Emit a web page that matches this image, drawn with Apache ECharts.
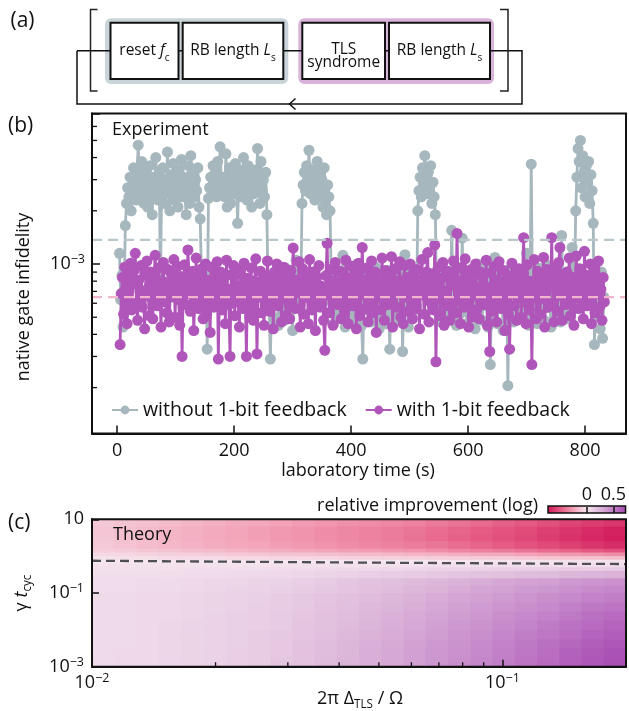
<!DOCTYPE html>
<html><head><meta charset="utf-8">
<script src="https://cdn.jsdelivr.net/npm/echarts@6/dist/echarts.min.js"></script>
<style>html,body{margin:0;padding:0;background:#fff;}#c{width:629px;height:711px;}</style>
</head><body><div id="c"></div>
<script>
const FONT = '"Open Sans","Noto Sans",sans-serif';
const INK = '#111';

// ---------- panel (b): experiment ----------
const T_GRAY0 = 4, T_PURPLE0 = 5, T_STEP = 2;      // sampling times (s)
// native gate infidelity, in units of 1e-4
const GRAY_1E4 = [
11.5, 6.3, 8.6, 4.4, 7.2,
16.5, 22, 27, 24, 31, 20, 26, 35, 29, 23,
33, 47, 28, 25, 38, 30, 22, 27, 34, 21,
29, 36, 24, 19, 31, 26, 40, 28, 23, 33,
7.5, 27, 35, 22, 30, 25, 43, 29, 20, 32,
26, 37, 23, 30, 28, 21, 34, 27, 39, 24,
31, 25, 19, 29, 36, 22, 41, 27, 33, 24,
30, 26, 35, 21, 18,
9.0, 6.5, 7.8, 5.2, 8.4, 3.3,
23.5, 27, 31, 25, 36, 29, 33, 24, 38, 28,
46, 30, 26, 31, 24, 42, 21, 27, 35, 22,
29, 33, 25, 37, 28, 17, 31, 24, 34, 27,
40, 26, 30, 23, 36, 28, 32, 21, 29, 25,
34, 27, 45, 31, 22, 38, 26, 30, 24, 33,
19,
7, 5.5, 2.9, 6.4, 8.2, 5, 7.5, 6, 9, 4.5,
6.8, 8, 5.6, 7.3, 4.8, 9.5, 6.2, 5.3, 7.7, 6.6,
8.5, 4.2, 7, 6, 10.5, 5.8, 7.4, 9, 6.3,
22, 28, 33, 26, 36, 30, 44, 25, 31, 27,
34, 23, 29, 38, 26, 32, 24, 30, 21, 35,
27, 19, 28, 24, 20,
8, 6, 4.6, 7.2, 9, 5.4, 6.8, 8.4, 5, 7,
11.2, 6.2, 4.4, 7.8, 6, 9.3, 5.2, 7.4, 6.6, 8,
4.9, 7, 10, 5.8, 6.4, 8.6, 4.5, 2.9, 7.1, 6.3,
9, 5.5, 7.6, 6.1, 4.7, 8.2, 6.9, 5.3, 9.6, 7.2,
5.9, 4.3, 7.8, 6.5, 8.9, 5.1, 6.7, 4.6, 7.4, 9.2,
3.3, 6, 8.1, 5.6, 7, 4.8, 9.4, 6.3, 5.4, 7.7,
8.5, 3.2, 6.6, 11.3, 5.7, 7.2, 4.4, 8.8, 6.1, 5.2,
7.5, 9.1, 6.4, 5.8,
20, 26, 31, 24, 35, 28, 41, 30, 25, 33,
27, 36, 22, 29, 24, 19,
7, 5.6, 8.3, 6.4, 4.7, 9.2, 6.9, 5.4, 7.8, 6.1,
8.8, 4.9, 6.6, 15.5, 7.3, 5.9, 8, 4.5, 6.8, 9.6,
5.2, 7.1, 14, 6.3, 8.5, 5.7, 4.6, 7.6, 9, 6,
5.1, 8.2, 6.7, 4.3, 7.4, 10, 5.5, 6.9, 8.7, 4.8,
7, 6.2, 9.3, 5.8, 4.4, 7.9, 2.7, 6.5, 8.4, 5.3,
10.9, 6.8, 4.6, 7.2, 5.6, 8.9, 6.1, 4.2, 7.7, 5.9,
8.1, 2.05, 6.4, 9.4, 5, 7.5, 4.7, 6.6, 8.6, 5.4,
7.2, 9.1, 4.9, 6.3, 8, 5.7, 7.4, 11.5, 6, 4.5,
8.3,
36.7,
6.5, 8.9, 5.2, 7.3, 4.6, 9.5, 6.1, 7.8, 5.5, 8.2,
4.8, 6.9, 9.9, 5.7, 7.1, 6.3, 4.4, 8.5, 6.7, 5.1,
7.6, 9.1, 5.9, 6.4, 4.7, 14.5, 7.2, 5.3, 8.7, 6,
4.9, 7.9, 6.6, 9.2, 12.4, 5.6, 7,
20, 31, 45, 38, 50, 27, 41, 33, 24, 36,
29, 38, 22, 32, 26, 17,
3.5, 6.2, 8.4, 5.1, 7.6, 4.3, 9, 3.8, 6.5];
const PURPLE_1E4 = [
3.5, 6.8, 8.4, 5.2, 9.6, 7.1, 4.6, 8.9, 6.2, 10.1,
5.5, 7.7, 9.2, 11.5, 6.0, 4.8, 8.1, 7.0, 9.8, 5.7,
6.6, 4.3, 8.7, 10.4, 7.3, 5.1, 9.0, 6.4, 4.9, 8.3,
11.2, 7.5, 5.8, 9.5, 6.9, 4.4, 8.0, 10.2, 6.1, 7.8,
5.3, 9.3, 4.7, 7.2, 8.8, 6.5, 10.6, 5.0, 7.9, 9.7,
6.3, 4.5, 8.5, 3.0, 7.4, 9.9, 5.9, 6.8, 12.0, 8.2,
5.4, 7.6, 9.1, 4.2, 6.7, 10.8, 7.1, 5.6, 8.6, 6.0,
9.4, 4.9, 7.3, 10.0, 5.2, 8.1, 6.6, 4.1, 9.6, 7.0,
5.7, 8.9, 6.2, 10.3, 2.9, 7.7, 9.0, 5.5, 6.9, 8.4,
4.6, 10.5, 7.2, 5.9, 3.0, 8.7, 6.4, 9.8, 5.1, 7.5,
8.8, 6.1, 4.4, 9.3, 7.0, 5.6, 10.1, 6.8, 3.0, 8.3,
7.4, 5.0, 9.5, 6.3, 4.8, 8.0, 10.7, 3.1, 6.5, 7.9,
9.1, 5.3, 7.1, 4.5, 8.6, 6.0, 10.4, 7.6, 5.4, 8.2,
6.7, 4.3, 9.0, 7.3, 10.0, 5.8, 6.2, 8.9, 4.7, 7.7,
9.6, 6.4, 5.1, 8.5, 7.0, 4.9, 9.2, 6.0, 12.3, 7.4,
5.6, 8.1, 6.9, 10.3, 4.4, 7.2, 9.4, 5.2, 6.6, 8.7,
7.8, 4.6, 10.6, 6.3, 5.5, 9.0, 7.1, 4.2, 8.4, 6.1,
9.8, 5.7, 7.5, 6.8, 4.8, 3.25, 8.6, 13.1, 7.0, 5.3,
9.3, 6.5, 4.5, 8.0, 10.2, 7.2, 5.9, 6.9, 9.1, 4.9,
7.6, 8.8, 5.4, 10.5, 6.2, 4.6, 8.3, 7.0, 9.7, 5.8,
6.4, 8.9, 4.3, 7.4, 10.1, 5.1, 6.7, 12.4, 8.1, 5.6,
7.3, 9.5, 4.7, 6.0, 8.5, 10.4, 5.3, 7.1, 9.0, 4.1,
6.6, 8.2, 7.7, 5.5, 10.8, 6.3, 4.8, 9.2, 7.0, 5.9,
8.7, 6.1, 11.0, 4.4, 7.5, 9.4, 5.7, 6.9, 8.0, 10.3,
5.0, 7.2, 4.6, 9.8, 6.5, 8.4, 5.4, 7.8, 10.0, 6.2,
4.9, 8.6, 7.1, 5.6, 9.3, 6.8, 4.3, 8.1, 10.6, 7.4,
5.2, 6.6, 9.0, 11.6, 4.7, 7.9, 6.0, 8.8, 5.5, 12.8,
2.8, 7.3, 9.6, 6.4, 5.1, 8.3, 10.2, 4.5, 7.0, 6.7,
9.1, 5.8, 4.8, 8.5, 7.6, 10.4, 6.1, 5.3, 14.9, 8.0,
6.9, 4.6, 9.5, 7.2, 5.7, 10.7, 6.3, 8.2, 4.4, 7.8,
9.3, 5.0, 6.6, 8.7, 10.0, 5.5, 7.4, 4.9, 9.0, 6.2,
8.4, 5.9, 7.1, 10.5, 4.5, 6.8, 3.2, 8.9, 7.5, 5.4,
9.7, 6.4, 4.7, 8.1, 10.3, 7.0, 5.6, 6.0, 9.2, 4.2,
7.7, 8.6, 5.2, 3.3, 6.9, 10.1, 7.3, 5.8, 8.8, 4.8,
6.5, 9.4, 7.9, 5.0, 8.3, 14.1, 6.1, 4.6, 9.9, 7.2,
5.5, 8.0, 2.7, 6.7, 10.6, 7.6, 4.9, 9.1, 6.3, 5.2,
8.5, 7.0, 10.9, 4.4, 6.8, 9.3, 5.7, 8.2, 7.4, 14.1,
6.0, 4.7, 9.6, 7.8, 5.4, 10.2, 12.4, 6.6, 4.8, 8.7,
7.1, 5.9, 9.0, 6.4, 10.8, 5.1, 7.7, 8.4, 4.5, 6.9,
11.1, 7.3, 5.6, 9.4, 6.2, 8.9, 4.9, 11.8, 7.0, 5.8,
8.6, 6.5, 10.0, 4.6, 7.5, 9.2, 5.3, 6.8, 8.1, 10.4,
5.7, 7.2, 4.8, 8.4, 6.1];
const MEAN_WITHOUT_1E4 = 13.7;
const MEAN_WITH_1E4 = 6.5;
const B_X_RANGE = [-43, 870];
const B_Y_RANGE = [1.1e-4, 7.1e-3];
const B_X_TICKS = [0, 200, 400, 600, 800];
const B_Y_MINOR = [2e-4,3e-4,4e-4,5e-4,6e-4,7e-4,8e-4,9e-4,2e-3,3e-3,4e-3,5e-3,6e-3];

// ---------- panel (c): theory ----------
const C_X_RANGE = [0.01, 0.2];
const C_Y_RANGE = [0.001, 10];
const C_X_MINOR = [0.02,0.03,0.04,0.05,0.06,0.07,0.08,0.09];
const X_EDGES = [0.01,0.01133,0.012836,0.014542,0.016475,0.018666,0.021147,0.023959,0.027144,0.030753,0.034842,0.039474,
  0.044722,0.050667,0.057404,0.065037,0.073685,0.083482,0.094582,0.107156,0.121403,0.137537,0.155826,0.176544,0.2];
const Y_EDGES = [10,6.31,3.98,2.51,1.585,1.259,1,0.794,0.631,0.501,0.398,0.251,0.158,0.1,0.0562,0.0316,0.0178,0.01,0.00562,0.00316,0.00178,0.001];
// relative improvement (log), rows top -> bottom, columns left -> right
const HEAT = [
[-0.11,-0.13,-0.14,-0.16,-0.18,-0.2,-0.22,-0.23,-0.25,-0.27,-0.29,-0.31,-0.32,-0.34,-0.36,-0.39,-0.41,-0.44,-0.47,-0.5,-0.53,-0.57,-0.6,-0.63],
[-0.12,-0.14,-0.16,-0.18,-0.2,-0.22,-0.24,-0.26,-0.28,-0.3,-0.32,-0.34,-0.36,-0.38,-0.4,-0.43,-0.46,-0.49,-0.52,-0.55,-0.59,-0.63,-0.67,-0.7],
[-0.12,-0.14,-0.16,-0.18,-0.2,-0.22,-0.24,-0.26,-0.28,-0.3,-0.32,-0.34,-0.36,-0.38,-0.41,-0.44,-0.47,-0.5,-0.53,-0.56,-0.6,-0.64,-0.68,-0.71],
[-0.11,-0.13,-0.15,-0.17,-0.19,-0.21,-0.23,-0.24,-0.26,-0.28,-0.3,-0.32,-0.34,-0.36,-0.38,-0.4,-0.43,-0.46,-0.49,-0.52,-0.55,-0.59,-0.63,-0.66],
[-0.09,-0.1,-0.12,-0.13,-0.15,-0.16,-0.18,-0.2,-0.21,-0.23,-0.24,-0.26,-0.27,-0.29,-0.3,-0.32,-0.35,-0.37,-0.39,-0.41,-0.44,-0.47,-0.5,-0.53],
[-0.05,-0.06,-0.07,-0.08,-0.09,-0.1,-0.11,-0.12,-0.13,-0.13,-0.14,-0.15,-0.16,-0.17,-0.18,-0.19,-0.21,-0.22,-0.23,-0.25,-0.27,-0.28,-0.3,-0.32],
[-0.02,-0.03,-0.03,-0.04,-0.04,-0.04,-0.05,-0.05,-0.06,-0.06,-0.06,-0.07,-0.07,-0.08,-0.08,-0.09,-0.09,-0.1,-0.1,-0.11,-0.12,-0.13,-0.13,-0.14],
[0,0,0,0,0,0,0,0,0,0,0,0,0,0,0,0,-0.01,-0.01,-0.01,-0.01,-0.01,-0.02,-0.02,-0.02],
[0.02,0.02,0.02,0.02,0.02,0.02,0.02,0.02,0.02,0.03,0.03,0.03,0.03,0.03,0.03,0.04,0.04,0.04,0.04,0.04,0.04,0.05,0.05,0.05],
[0.03,0.03,0.03,0.03,0.04,0.04,0.04,0.04,0.05,0.05,0.06,0.06,0.07,0.07,0.08,0.09,0.09,0.1,0.11,0.11,0.12,0.13,0.13,0.14],
[0.04,0.04,0.04,0.05,0.05,0.05,0.06,0.07,0.07,0.08,0.09,0.1,0.12,0.13,0.14,0.15,0.17,0.18,0.19,0.21,0.22,0.24,0.25,0.26],
[0.05,0.05,0.06,0.06,0.07,0.08,0.08,0.09,0.1,0.12,0.14,0.16,0.18,0.2,0.22,0.24,0.26,0.28,0.31,0.33,0.35,0.38,0.4,0.42],
[0.05,0.05,0.06,0.06,0.07,0.08,0.09,0.1,0.11,0.13,0.15,0.17,0.19,0.21,0.24,0.26,0.29,0.32,0.34,0.37,0.39,0.42,0.45,0.47],
[0.06,0.06,0.07,0.07,0.08,0.09,0.1,0.11,0.13,0.15,0.17,0.19,0.21,0.24,0.26,0.29,0.32,0.34,0.37,0.4,0.43,0.46,0.49,0.51],
[0.06,0.06,0.07,0.07,0.08,0.09,0.1,0.12,0.13,0.15,0.18,0.2,0.23,0.25,0.28,0.31,0.34,0.37,0.4,0.43,0.46,0.5,0.53,0.55],
[0.06,0.06,0.07,0.07,0.08,0.1,0.11,0.12,0.14,0.16,0.19,0.21,0.24,0.27,0.3,0.33,0.36,0.39,0.43,0.46,0.49,0.53,0.57,0.59],
[0.06,0.06,0.07,0.08,0.09,0.1,0.11,0.12,0.14,0.17,0.19,0.22,0.25,0.28,0.31,0.35,0.38,0.41,0.45,0.48,0.52,0.56,0.59,0.62],
[0.06,0.06,0.07,0.08,0.09,0.1,0.11,0.13,0.15,0.17,0.2,0.23,0.26,0.29,0.32,0.36,0.4,0.43,0.47,0.51,0.54,0.58,0.62,0.65],
[0.06,0.06,0.07,0.08,0.09,0.1,0.11,0.13,0.15,0.18,0.21,0.24,0.27,0.3,0.34,0.38,0.41,0.45,0.49,0.53,0.57,0.61,0.65,0.68],
[0.06,0.07,0.07,0.08,0.09,0.1,0.12,0.13,0.15,0.18,0.21,0.24,0.28,0.31,0.35,0.39,0.42,0.46,0.5,0.54,0.58,0.63,0.67,0.7],
[0.06,0.07,0.07,0.08,0.09,0.1,0.12,0.13,0.16,0.18,0.22,0.25,0.28,0.31,0.35,0.39,0.43,0.47,0.51,0.55,0.59,0.64,0.68,0.71]];
const THRESHOLD_LINE = [[0.01, 0.75], [0.0447, 0.67], [0.2, 0.61]];
const CB_RANGE = [-0.73, 0.73];
const CB_TICKS = [0, 0.5];
const CMAP = ['#d21a5c','#e55c84','#f3a4b9','#f5e6ef','#ddb6da','#c383c9','#a84bb3'];

const C_GRAY = '#a6b7bd', C_PURPLE = '#b055b9';

// ---------- build ----------
const grayData = GRAY_1E4.map((v, i) => [T_GRAY0 + T_STEP * i, v * 1e-4]);
const purpleData = PURPLE_1E4.map((v, i) => [T_PURPLE0 + T_STEP * i, v * 1e-4]);
const heatData = [];
HEAT.forEach((row, ri) => row.forEach((v, ci) => heatData.push([
  Math.sqrt(X_EDGES[ci] * X_EDGES[ci + 1]), Math.sqrt(Y_EDGES[ri] * Y_EDGES[ri + 1]), v, ci, ri])));

function powLabel(v) {
  const l = Math.log10(v), e = Math.round(l);
  if (Math.abs(l - e) > 1e-6) return '';
  if (e === 1) return '10';
  return '10{sup|' + (e < 0 ? '\u2212' + (-e) : e) + '}';
}
const SUP = { sup: { fontSize: 12.5, lineHeight: 12, verticalAlign: 'top', fontFamily: FONT, color: INK } };
const tickLabel = { fontSize: 18, fontFamily: FONT, color: INK };

const chart = echarts.init(document.getElementById('c'), null, { renderer: 'canvas' });
const gridStyle = { show: true, borderColor: INK, borderWidth: 2, z: 10, containLabel: false };

function tx(x, y, text, extra, rot) {
  const o = { type: 'text', x: x, y: y, z: 20,
    style: Object.assign({ text: text, fontSize: 18, fontFamily: FONT, fill: INK, align: 'left', verticalAlign: 'middle' }, extra || {}) };
  if (rot) o.rotation = rot;
  return o;
}
const richBase = (fs) => ({
  it: { fontSize: fs, fontFamily: FONT, fontStyle: 'italic', fill: INK, lineHeight: 24 },
  sub: { fontSize: fs * 0.65, fontFamily: FONT, fill: INK, lineHeight: 12, verticalAlign: 'bottom' },
  n: { fontSize: fs, fontFamily: FONT, fill: INK, lineHeight: 24 }
});

const graphic = [
  // panel (a) diagram
  { type: 'rect', z: 1, shape: { x: 105, y: 18.3, width: 183.3, height: 65.7, r: 6 }, style: { fill: '#c9d4d8' } },
  { type: 'rect', z: 1, shape: { x: 298.3, y: 18.3, width: 195.7, height: 65.7, r: 6 }, style: { fill: '#d9b3d9' } },
  { type: 'polyline', z: 2, shape: { points: [[77, 50.7], [522, 50.7], [522, 104], [77, 104], [77, 50.7]] }, style: { stroke: INK, lineWidth: 1.5, fill: null } },
  { type: 'polyline', z: 2, shape: { points: [[295.5, 98.5], [289.5, 104], [295.5, 109.5]] }, style: { stroke: INK, lineWidth: 1.5, fill: null } },
  { type: 'polyline', z: 2, shape: { points: [[97.5, 9.5], [90.5, 9.5], [90.5, 91], [97.5, 91]] }, style: { stroke: '#222', lineWidth: 1.5, fill: null } },
  { type: 'polyline', z: 2, shape: { points: [[500, 9.5], [508, 9.5], [508, 91], [500, 91]] }, style: { stroke: '#222', lineWidth: 1.5, fill: null } },
  { type: 'rect', z: 3, shape: { x: 110.5, y: 22.7, width: 68, height: 56.3 }, style: { fill: '#fff', stroke: INK, lineWidth: 2 } },
  { type: 'rect', z: 3, shape: { x: 182.7, y: 22.7, width: 100.6, height: 56.3 }, style: { fill: '#fff', stroke: INK, lineWidth: 2 } },
  { type: 'rect', z: 3, shape: { x: 302.3, y: 22.7, width: 82.7, height: 56.3 }, style: { fill: '#fff', stroke: INK, lineWidth: 2 } },
  { type: 'rect', z: 3, shape: { x: 389, y: 22.7, width: 101, height: 56.3 }, style: { fill: '#fff', stroke: INK, lineWidth: 2 } },
  tx(144.5, 51, '{n|reset }{it|f}{sub|c}', { align: 'center', rich: richBase(15.5) }),
  tx(233, 51, '{n|RB length }{it|L}{sub|s}', { align: 'center', rich: richBase(15.5) }),
  tx(343.7, 49.2, 'TLS', { align: 'center', fontSize: 15.5 }),
  tx(343.7, 63, 'syndrome', { align: 'center', fontSize: 15.5 }),
  tx(439.5, 51, '{n|RB length }{it|L}{sub|s}', { align: 'center', rich: richBase(15.5) }),
  // panel labels
  tx(10.5, 21.5, '(a)', { fontSize: 21 }),
  tx(8, 126, '(b)', { fontSize: 21 }),
  tx(8, 523, '(c)', { fontSize: 21 }),
  // panel (b) texts
  tx(112, 129.5, 'Experiment'),
  tx(24, 297, 'native gate infidelity', { align: 'center' }, Math.PI / 2),
  tx(358, 471, 'laboratory time (s)', { align: 'center' }),
  // panel (c) texts
  tx(113, 534.5, 'Theory'),
  tx(538, 505.5, 'relative improvement (log)', { align: 'right' }),
  tx(360, 699, '{n|2\u03c0 \u0394}{sub|TLS}{n| / \u03a9}', { align: 'center', rich: richBase(18) }),
  tx(22, 593, '{n|\u03b3 }{it|t}{sub|cyc}', { align: 'center', rich: richBase(18) }, Math.PI / 2)
];

const axLine = { show: true, onZero: false, lineStyle: { color: INK, width: 2 } };
const option = {
  animation: false,
  backgroundColor: '#fff',
  textStyle: { fontFamily: FONT },
  grid: [
    Object.assign({ left: 92, top: 113.5, width: 534, height: 320 }, gridStyle),
    Object.assign({ left: 92, top: 519.3, width: 534.7, height: 147.4 }, gridStyle),
    Object.assign({ left: 548, top: 506, width: 79, height: 7 }, gridStyle, { borderWidth: 1.5 })
  ],
  legend: {
    data: ['without 1-bit feedback', 'with 1-bit feedback'],
    left: 111, top: 400, padding: 0, itemGap: 18, itemWidth: 26, itemHeight: 11,
    textStyle: { fontSize: 19.5, fontFamily: FONT, color: INK }
  },
  visualMap: { type: 'continuous', show: false, min: CB_RANGE[0], max: CB_RANGE[1], dimension: 2, seriesIndex: 6, inRange: { color: CMAP } },
  xAxis: [
    { gridIndex: 0, type: 'value', min: B_X_RANGE[0], max: B_X_RANGE[1], z: 10, axisLine: axLine,
      axisTick: { show: true, inside: true, length: 8, customValues: B_X_TICKS, lineStyle: { color: INK, width: 1.5 } },
      axisLabel: Object.assign({ customValues: B_X_TICKS, margin: 8 }, tickLabel),
      splitLine: { show: false } },
    { gridIndex: 1, type: 'log', logBase: 10, min: C_X_RANGE[0], max: C_X_RANGE[1], z: 10, axisLine: axLine,
      axisTick: { show: true, inside: true, length: 7, lineStyle: { color: INK, width: 1.5 } },
      axisLabel: Object.assign({ formatter: powLabel, rich: SUP, margin: 5, lineHeight: 22, showMinLabel: true, showMaxLabel: true }, tickLabel),
      splitLine: { show: false }, minorTick: { show: false } },
    { gridIndex: 2, type: 'value', min: CB_RANGE[0], max: CB_RANGE[1], position: 'top', z: 10,
      axisLine: { show: false },
      axisTick: { show: true, inside: false, length: 6, customValues: CB_TICKS, lineStyle: { color: INK, width: 1.5 } },
      axisLabel: Object.assign({ customValues: CB_TICKS, margin: 2, formatter: v => String(v) }, tickLabel),
      splitLine: { show: false } }
  ],
  yAxis: [
    { gridIndex: 0, type: 'log', logBase: 10, min: B_Y_RANGE[0], max: B_Y_RANGE[1], z: 10, axisLine: axLine,
      axisTick: { show: true, inside: true, length: 8, lineStyle: { color: INK, width: 1.5 } },
      axisLabel: Object.assign({ formatter: powLabel, rich: SUP, margin: 7, lineHeight: 22 }, tickLabel),
      splitLine: { show: false } },
    { gridIndex: 1, type: 'log', logBase: 10, min: C_Y_RANGE[0], max: C_Y_RANGE[1], interval: 2, z: 10, axisLine: axLine,
      axisTick: { show: true, inside: true, length: 7, lineStyle: { color: INK, width: 1.5 } },
      axisLabel: Object.assign({ formatter: powLabel, rich: SUP, margin: 8, lineHeight: 22, showMinLabel: true, showMaxLabel: true }, tickLabel),
      splitLine: { show: false } },
    { gridIndex: 2, type: 'value', min: 0, max: 1, show: false }
  ],
  series: [
    { name: 'without 1-bit feedback', type: 'line', xAxisIndex: 0, yAxisIndex: 0, data: grayData,
      symbol: 'circle', symbolSize: 11, showAllSymbol: true, z: 2,
      lineStyle: { color: C_GRAY, width: 2.8 }, itemStyle: { color: C_GRAY } },
    { name: 'with 1-bit feedback', type: 'line', xAxisIndex: 0, yAxisIndex: 0, data: purpleData,
      symbol: 'circle', symbolSize: 11, showAllSymbol: true, z: 3,
      lineStyle: { color: C_PURPLE, width: 2.8 }, itemStyle: { color: C_PURPLE } },
    { name: 'mean without', type: 'line', xAxisIndex: 0, yAxisIndex: 0, z: 5, symbol: 'none', silent: true,
      data: [[B_X_RANGE[0], MEAN_WITHOUT_1E4 * 1e-4], [B_X_RANGE[1], MEAN_WITHOUT_1E4 * 1e-4]],
      lineStyle: { color: '#b9c6cb', width: 2.4, type: [10, 6] } },
    { name: 'mean with', type: 'line', xAxisIndex: 0, yAxisIndex: 0, z: 5, symbol: 'none', silent: true,
      data: [[B_X_RANGE[0], MEAN_WITH_1E4 * 1e-4], [B_X_RANGE[1], MEAN_WITH_1E4 * 1e-4]],
      lineStyle: { color: '#f1b5cf', width: 2.4, type: [10, 6] } },
    { name: 'b minor ticks', type: 'custom', xAxisIndex: 0, yAxisIndex: 0, z: 12, silent: true, clip: false,
      data: B_Y_MINOR.map(v => [B_X_RANGE[0], v]),
      renderItem: (p, api) => { const c = api.coord([api.value(0), api.value(1)]);
        return { type: 'line', shape: { x1: c[0], y1: c[1], x2: c[0] + 5, y2: c[1] }, style: { stroke: INK, lineWidth: 1.3 } }; } },
    { name: 'c minor ticks', type: 'custom', xAxisIndex: 1, yAxisIndex: 1, z: 12, silent: true, clip: false,
      data: C_X_MINOR.map(v => [v, C_Y_RANGE[0]]),
      renderItem: (p, api) => { const c = api.coord([api.value(0), api.value(1)]);
        return { type: 'line', shape: { x1: c[0], y1: c[1], x2: c[0], y2: c[1] - 4.5 }, style: { stroke: INK, lineWidth: 1.3 } }; } },
    { name: 'theory', type: 'custom', xAxisIndex: 1, yAxisIndex: 1, z: 2, silent: true,
      dimensions: ['x', 'y', 'v', 'ci', 'ri'], encode: { x: 0, y: 1 }, data: heatData,
      renderItem: (p, api) => {
        const ci = api.value(3), ri = api.value(4);
        const a = api.coord([X_EDGES[ci], Y_EDGES[ri]]), b = api.coord([X_EDGES[ci + 1], Y_EDGES[ri + 1]]);
        return { type: 'rect', shape: { x: Math.min(a[0], b[0]), y: Math.min(a[1], b[1]),
          width: Math.abs(b[0] - a[0]) + 0.7, height: Math.abs(b[1] - a[1]) + 0.7 },
          style: { fill: api.visual('color') } };
      } },
    { name: 'threshold', type: 'line', xAxisIndex: 1, yAxisIndex: 1, z: 6, symbol: 'none', silent: true,
      data: THRESHOLD_LINE, lineStyle: { color: '#4f4f55', width: 2.3, type: [9, 5] } },
    { name: 'colorbar', type: 'custom', xAxisIndex: 2, yAxisIndex: 2, z: 2, silent: true,
      data: [[0, 0.5]],
      renderItem: (p, api) => {
        const a = api.coord([CB_RANGE[0], 1]), b = api.coord([CB_RANGE[1], 0]);
        return { type: 'rect', shape: { x: a[0], y: a[1], width: b[0] - a[0], height: b[1] - a[1] },
          style: { fill: new echarts.graphic.LinearGradient(0, 0, 1, 0, CMAP.map((c, i) => ({ offset: i / (CMAP.length - 1), color: c }))) } };
      } }
  ],
  graphic: graphic
};
chart.setOption(option);
</script></body></html>
